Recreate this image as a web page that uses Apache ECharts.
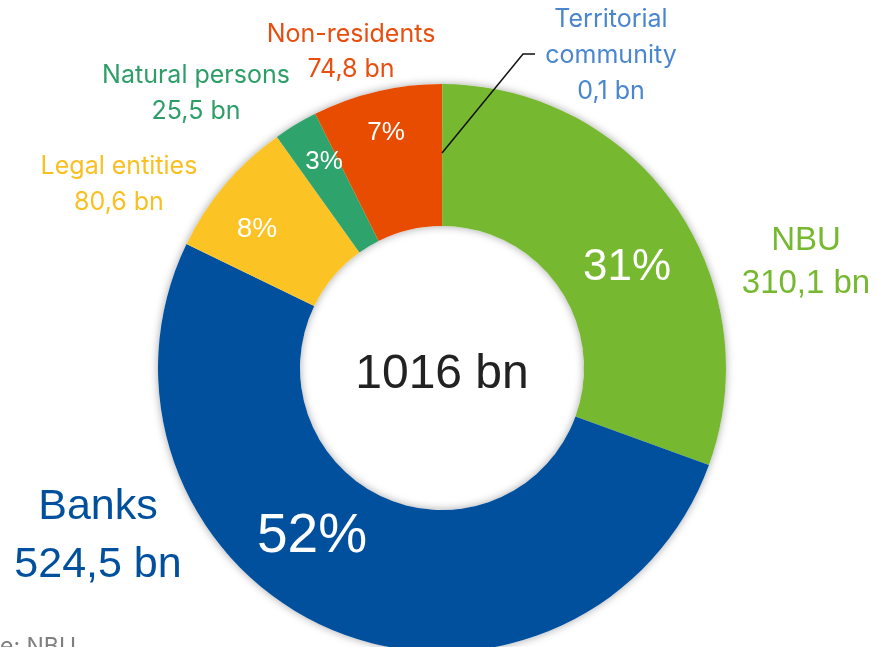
<!DOCTYPE html>
<html>
<head>
<meta charset="utf-8">
<script src="https://cdn.jsdelivr.net/npm/echarts@6/dist/echarts.min.js"></script>
<style>
html, body { margin: 0; padding: 0; background: #fff; }
#chart { width: 877px; height: 647px; }
</style>
</head>
<body>
<div id="chart"></div>
<script>
// data
var categories = ['Territorial community', 'NBU', 'Banks', 'Legal entities', 'Natural persons', 'Non-residents'];
var values = [0.1, 310.1, 524.5, 80.6, 25.5, 74.8];
var totalLabel = '1016 bn';
var sourceText = 'Source: NBU';

// styles
var sliceColors = ['#4a86cf', '#76b82f', '#00509e', '#fbc324', '#2ea36b', '#e84c00'];
var textColors = ['#4a86cf', '#76b82f', '#00509e', '#f9c022', '#2e9e68', '#e84e0f'];
var nameFont = [25, 33, 43, 25, 25, 25];
var nameLine = [36, 43, 58, 36, 36, 35];
var nameFamily = ['Inter', 'Liberation Sans', 'Liberation Sans', 'Inter', 'Inter', 'Inter'];
var namePos = [[611, 55], [806, 262], [98, 536], [119, 184], [196, 93], [351, 52]];
var pctFont = [0, 44, 55, 28, 26, 26];
var pctPos = [null, [627, 268], [312, 537], [257, 229], [324, 162], [386, 133]];
var leader = [[442, 153], [523, 54], [535, 54]];

var total = 0;
values.forEach(function (v) { total += v; });

function fmt(v) {
  return String(v).replace('.', ',') + ' bn';
}

var center = [442, 368];
var radius = [142, 284];

var pctData = [];
var nameData = [];
for (var i = 0; i < categories.length; i++) {
  pctData.push({
    name: categories[i],
    value: values[i],
    itemStyle: { color: sliceColors[i] },
    label: { show: i !== 0, fontSize: pctFont[i] || 12 }
  });
  var txt = (i === 0 ? categories[i].replace(' ', '\n') : categories[i]) + '\n' + fmt(values[i]);
  nameData.push({
    name: categories[i],
    value: values[i],
    label: {
      formatter: txt,
      color: textColors[i],
      fontSize: nameFont[i],
      lineHeight: nameLine[i],
      fontFamily: nameFamily[i]
    }
  });
}

var myChart = echarts.init(document.getElementById('chart'));
myChart.setOption({
  animation: false,
  graphic: [{
    type: 'text',
    x: 76,
    y: 636,
    style: {
      text: sourceText,
      textAlign: 'right',
      textVerticalAlign: 'top',
      fontSize: 23,
      fontFamily: 'Inter',
      fill: '#7f7f7f'
    }
  }, {
    type: 'polyline',
    z: 100,
    shape: { points: leader },
    style: { stroke: '#111', lineWidth: 1.5, fill: null }
  }],
  series: [
    {
      // shadow ring + total in the middle
      type: 'pie',
      silent: true,
      center: center,
      radius: radius,
      startAngle: 90,
      itemStyle: {
        color: '#fff',
        shadowBlur: 9,
        shadowColor: 'rgba(0,0,0,0.35)'
      },
      label: {
        show: true,
        position: 'center',
        formatter: totalLabel,
        fontSize: 48,
        fontFamily: 'Liberation Sans',
        color: '#222',
        offset: [0, 7]
      },
      labelLine: { show: false },
      data: [{ name: 'total', value: 1 }]
    },
    {
      type: 'pie',
      silent: true,
      center: center,
      radius: radius,
      startAngle: 90,
      clockwise: true,
      label: {
        position: 'inside',
        formatter: function (p) {
          return Math.round(p.value / total * 100) + '%';
        },
        color: '#fff',
        fontFamily: 'Liberation Sans'
      },
      labelLayout: function (params) {
        var p = pctPos[params.dataIndex];
        if (!p) return {};
        return { x: p[0], y: p[1], align: 'center', verticalAlign: 'middle' };
      },
      data: pctData
    },
    {
      type: 'pie',
      silent: true,
      center: center,
      radius: radius,
      startAngle: 90,
      clockwise: true,
      avoidLabelOverlap: false,
      itemStyle: { color: 'rgba(0,0,0,0)' },
      label: {
        position: 'outside',
        align: 'center',
        overflow: 'none',
        width: 300
      },
      labelLine: { show: false },
      labelLayout: function (params) {
        var p = namePos[params.dataIndex];
        return { x: p[0], y: p[1], align: 'center', verticalAlign: 'middle' };
      },
      data: nameData
    }
  ]
});
</script>
</body>
</html>
